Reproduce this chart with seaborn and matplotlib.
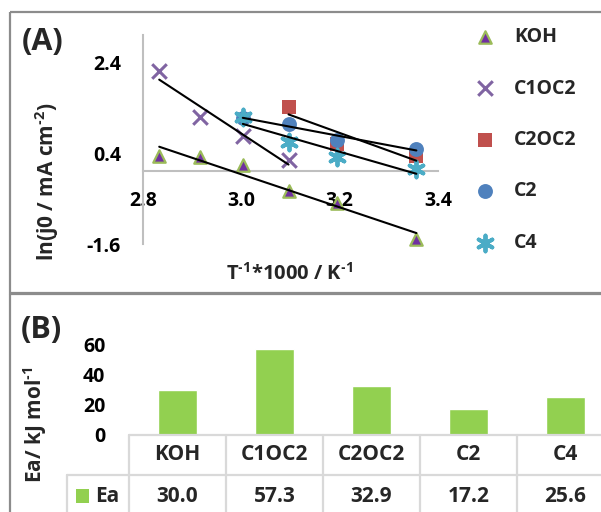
import matplotlib
matplotlib.use("Agg")
import matplotlib.pyplot as plt
import matplotlib.transforms as mtransforms
from matplotlib.patches import Rectangle
from matplotlib.lines import Line2D
import seaborn as sns

# ---- Arrhenius data: ln(j0) against 1000/T ----
koh_x = [2.833, 2.915, 3.003, 3.096, 3.195, 3.356]
koh_y = [0.33, 0.31, 0.13, -0.43, -0.70, -1.48]
c1oc2_x = [2.833, 2.915, 3.003, 3.096]
c1oc2_y = [2.20, 1.19, 0.77, 0.25]
c2oc2_x = [3.096, 3.195, 3.356]
c2oc2_y = [1.41, 0.61, 0.33]
c2_x = [3.003, 3.096, 3.195, 3.356]
c2_y = [1.18, 1.05, 0.68, 0.50]
c4_x = [3.003, 3.096, 3.195, 3.356]
c4_y = [1.19, 0.64, 0.31, 0.05]

# ---- activation energies ----
electrolytes = ["KOH", "C1OC2", "C2OC2", "C2", "C4"]
ea_values = [30.0, 57.3, 32.9, 17.2, 25.6]

x_ticks = [2.8, 3.0, 3.2, 3.4]
y_ticks = [-1.6, 0.4, 2.4]
ea_ticks = [0, 20, 40, 60]

FONT = "Open Sans"
sns.set_style("white")
plt.rcParams["font.family"] = [FONT, "DejaVu Sans"]
plt.rcParams["font.weight"] = "bold"
plt.rcParams["axes.unicode_minus"] = False
plt.rcParams["mathtext.fontset"] = "custom"
plt.rcParams["mathtext.rm"] = f"{FONT}:bold"
plt.rcParams["mathtext.bf"] = f"{FONT}:bold"
plt.rcParams["mathtext.it"] = f"{FONT}:bold"
plt.rcParams["mathtext.default"] = "rm"

W, H = 601, 512
fig = plt.figure(figsize=(W / 100, H / 100), dpi=100)
pix = mtransforms.Affine2D().scale(1 / W, -1 / H).translate(0, 1) + fig.transFigure


def px_box(x0, y0, x1, y1):
    return [x0 / W, 1 - y1 / H, (x1 - x0) / W, (y1 - y0) / H]


TICK = 14
LABEL = 15
TABLE = 15
PANEL = 22
BORDER = "#8c8c8c"
GRID = "#d9d9d9"
AXIS = "#bfbfbf"
HY = "\u2010"  # hyphen for superscript exponents

# panel frames
for y0, y1 in [(12, 293), (294, 530)]:
    fig.add_artist(Rectangle((10, y0), 620, y1 - y0, transform=pix, fill=False,
                             edgecolor=BORDER, lw=1.6))

# ================= panel A =================
axA = fig.add_axes(px_box(143, 35, 438, 244))
axA.patch.set_alpha(0)

series = [
    ("KOH", koh_x, koh_y, dict(marker="^", s=80, color="#7030A0",
                               edgecolor="#9BBB59", linewidth=1.6)),
    ("C1OC2", c1oc2_x, c1oc2_y, dict(marker="x", s=110, color="#8064A2", linewidth=2.2)),
    ("C2OC2", c2oc2_x, c2oc2_y, dict(marker="s", s=110, color="#C0504D", linewidth=0)),
    ("C2", c2_x, c2_y, dict(marker="o", s=115, color="#4F81BD", linewidth=0)),
    ("C4", c4_x, c4_y, dict(marker=(6, 2, 0), s=130, color="#4BACC6", linewidth=2.8)),
]
for name, xs, ys, kw in series:
    sns.scatterplot(x=xs, y=ys, ax=axA, label=name, zorder=3, clip_on=False, **kw)
for name, xs, ys, kw in series:
    sns.regplot(x=xs, y=ys, ax=axA, scatter=False, ci=None, truncate=True,
                color="black", line_kws=dict(lw=1.5, zorder=4))

axA.set_xlim(2.8, 3.4)
axA.set_ylim(-1.6, 3.0)
axA.set_xticks(x_ticks)
axA.set_xticklabels([f"{v:.1f}" for v in x_ticks])
axA.set_yticks(y_ticks)
axA.set_yticklabels([f"{v:.1f}" for v in y_ticks])
for side in ["top", "right"]:
    axA.spines[side].set_visible(False)
axA.spines["bottom"].set_position(("data", 0))
for side in ["left", "bottom"]:
    axA.spines[side].set_color(AXIS)
    axA.spines[side].set_linewidth(1.5)
axA.tick_params(axis="both", colors=AXIS, width=1.5, length=5.5, direction="out",
                labelcolor="black", labelsize=TICK)
axA.tick_params(axis="x", pad=9)
axA.tick_params(axis="y", pad=10.5)
for lab in axA.get_xticklabels() + axA.get_yticklabels():
    lab.set_fontweight("bold")

leg = axA.legend(loc="upper left", bbox_to_anchor=(475 / W, 1 - 27 / H),
                 bbox_transform=fig.transFigure, frameon=False, handlelength=1.0,
                 handletextpad=1.0, labelspacing=1.62, borderpad=0, borderaxespad=0,
                 scatterpoints=1, prop=dict(size=TICK, weight="bold"))

fig.text(43 / W, 1 - 42 / H, "(A)", fontsize=PANEL, fontweight="bold", ha="center", va="center")
fig.text(47 / W, 1 - 182 / H, f"ln(j0 / mA cm$^{{{HY}2}}$)", fontsize=LABEL,
         fontweight="bold", rotation=90, ha="center", va="center")
fig.text(289 / W, 1 - 274 / H, f"T$^{{{HY}1}}$*1000 / K$^{{{HY}1}}$", fontsize=14.5,
         fontweight="bold", ha="center", va="center")

# ================= panel B =================
axB = fig.add_axes(px_box(129, 345, 614, 435))
axB.patch.set_alpha(0)
sns.barplot(x=electrolytes, y=ea_values, color="#92D050", saturation=1, width=0.4, ax=axB)
axB.set_xlim(-0.5, len(electrolytes) - 0.5)
axB.set_ylim(0, 60)
axB.set_yticks(ea_ticks)
axB.set_yticklabels([str(v) for v in ea_ticks])
axB.set_xticks([])
axB.set_xlabel("")
axB.set_ylabel("")
for side in axB.spines:
    axB.spines[side].set_visible(False)
axB.tick_params(axis="y", length=0, pad=17, labelsize=TICK, labelcolor="black")
for lab in axB.get_yticklabels():
    lab.set_fontweight("bold")

# data table under the bars
blend = mtransforms.blended_transform_factory(axB.transData, pix)
n = len(electrolytes)
fig.add_artist(Line2D([-0.5, n - 0.5], [435, 435], transform=blend, color=GRID, lw=1.6))
fig.add_artist(Line2D([67, 620], [475, 475], transform=pix, color=GRID, lw=1.6))
fig.add_artist(Line2D([67, 67], [475, 520], transform=pix, color=GRID, lw=1.6))
for i in range(n + 1):
    fig.add_artist(Line2D([i - 0.5, i - 0.5], [435, 520], transform=blend, color=GRID, lw=1.6))
for i, (name, val) in enumerate(zip(electrolytes, ea_values)):
    fig.text(i, 455, name, transform=blend, ha="center", va="center",
             fontsize=TABLE, fontweight="bold")
    fig.text(i, 496, f"{val:.1f}", transform=blend, ha="center", va="center",
             fontsize=TABLE, fontweight="bold")
fig.add_artist(Rectangle((76, 489), 13, 14, transform=pix, facecolor="#92D050", edgecolor="none"))
fig.text(95 / W, 1 - 496 / H, "Ea", ha="left", va="center", fontsize=TABLE, fontweight="bold")

fig.text(41 / W, 1 - 330 / H, "(B)", fontsize=PANEL, fontweight="bold", ha="center", va="center")
fig.text(35 / W, 1 - 425 / H, f"Ea/ kJ mol$^{{{HY}1}}$", fontsize=LABEL, fontweight="bold",
         rotation=90, ha="center", va="center")

fig.savefig("out.png", dpi=100)
